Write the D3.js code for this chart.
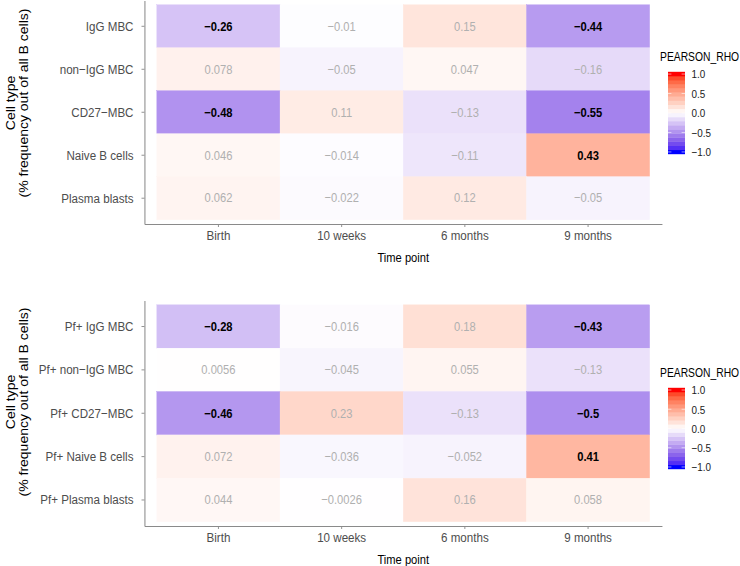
<!DOCTYPE html>
<html>
<head>
<meta charset="utf-8">
<script src="https://cdn.jsdelivr.net/npm/d3@7"></script>
<style>
  html, body { margin: 0; padding: 0; background: #ffffff; }
  svg { display: block; font-family: "Liberation Sans", Arial, Helvetica, sans-serif; }
</style>
</head>
<body>
<script>
// ---------------- data ----------------
const timepoints = ["Birth", "10 weeks", "6 months", "9 months"];

const cellTypesTop = ["IgG MBC", "non−IgG MBC", "CD27−MBC", "Naive B cells", "Plasma blasts"];
const rhoTop = [
  [-0.26, -0.01, 0.15, -0.44],
  [0.078, -0.05, 0.047, -0.16],
  [-0.48, 0.11, -0.13, -0.55],
  [0.046, -0.014, -0.11, 0.43],
  [0.062, -0.022, 0.12, -0.05]
];
const sigTop = [
  [1, 0, 0, 1],
  [0, 0, 0, 0],
  [1, 0, 0, 1],
  [0, 0, 0, 1],
  [0, 0, 0, 0]
];

const cellTypesBottom = ["Pf+ IgG MBC", "Pf+ non−IgG MBC", "Pf+ CD27−MBC", "Pf+ Naive B cells", "Pf+ Plasma blasts"];
const rhoBottom = [
  [-0.28, -0.016, 0.18, -0.43],
  [0.0056, -0.045, 0.055, -0.13],
  [-0.46, 0.23, -0.13, -0.5],
  [0.072, -0.036, -0.052, 0.41],
  [0.044, -0.0026, 0.16, 0.058]
];
const sigBottom = [
  [1, 0, 0, 1],
  [0, 0, 0, 0],
  [1, 0, 0, 1],
  [0, 0, 0, 1],
  [0, 0, 0, 0]
];

const legendTicks = [1, 0.5, 0, -0.5, -1];
const legendTitle = "PEARSON_RHO";
const xTitle = "Time point";
const yTitle1 = "Cell type";
const yTitle2 = "(% frequency out of all B cells)";

// ---------------- setup ----------------
const K = 0.86;              // horizontal squeeze of the original picture
const X = p => p / K;         // final pixel x -> internal x
const W = 740 / K, H = 566;

const svg = d3.select("body").append("svg")
  .attr("width", 740).attr("height", H)
  .attr("viewBox", `0 0 ${W} ${H}`)
  .attr("preserveAspectRatio", "none");

// diverging blue - white - red scale, midpoint 0, limits [-1, 1]
const labLow = d3.lab("#0000ff"), labHigh = d3.lab("#ff0000");
const color = v => {
  const t = Math.min(1, Math.abs(v));
  const end = v < 0 ? labLow : labHigh;
  const c = t * (0.77 + 0.23 * Math.pow(t, 3));
  return d3.lab(100 + (end.l - 100) * t, end.a * c, end.b * c).formatHex();
};

const fmtVal = v => String(v).replace("-", "\u2212");
const fmtLeg = d3.format(".1f");

function drawPanel(cfg) {
  const { rows, vals, sig, top, bottom, yTitleY, legTitleY, barTop, barBottom } = cfg;
  const g = svg.append("g");

  const x = d3.scaleBand().domain(timepoints)
    .range([X(144.5), X(662)]).paddingInner(0).paddingOuter(0.1);
  const y = d3.scaleBand().domain(rows)
    .range([top, bottom]).paddingInner(0).paddingOuter(0.1);

  const cells = [];
  rows.forEach((r, i) => timepoints.forEach((t, j) => {
    cells.push({ r, t, v: vals[i][j], s: sig[i][j] });
  }));

  g.selectAll("rect.cell").data(cells).join("rect")
    .attr("class", "cell")
    .attr("x", d => x(d.t)).attr("y", d => y(d.r))
    .attr("width", x.bandwidth()).attr("height", y.bandwidth())
    .attr("fill", d => color(d.v))
    .attr("stroke", d => color(d.v)).attr("stroke-width", 0.4);

  g.selectAll("text.val").data(cells).join("text")
    .attr("class", "val")
    .attr("x", d => x(d.t) + x.bandwidth() / 2)
    .attr("y", d => y(d.r) + y.bandwidth() / 2)
    .attr("text-anchor", "middle")
    .attr("dominant-baseline", "central")
    .attr("font-size", 13)
    .attr("font-weight", d => d.s ? "bold" : "normal")
    .attr("fill", d => d.s ? "#000000" : "#b0b0b0")
    .text(d => fmtVal(d.v));

  // axes
  const axL = g.append("g").attr("transform", `translate(${X(144.5)},0)`)
    .call(d3.axisLeft(y).tickSize(X(3)).tickSizeOuter(0).tickPadding(X(8)));
  const axB = g.append("g").attr("transform", `translate(0,${bottom})`)
    .call(d3.axisBottom(x).tickSize(3).tickSizeOuter(0).tickPadding(3));
  [axL, axB].forEach(a => {
    a.select(".domain").attr("stroke", "#8a8a8a").attr("stroke-width", 1.2);
    a.selectAll(".tick line").attr("stroke", "#8a8a8a");
    a.selectAll(".tick text").attr("fill", "#4d4d4d").attr("font-size", 13.5)
      .attr("font-family", "Liberation Sans, Arial, sans-serif");
  });

  // axis titles
  g.append("text").attr("x", (x.range()[0] + x.range()[1]) / 2).attr("y", bottom + 38)
    .attr("text-anchor", "middle").attr("font-size", 13).attr("fill", "#000").text(xTitle);
  g.append("text").attr("transform", `translate(${X(10.5)},${yTitleY}) rotate(-90)`)
    .attr("text-anchor", "middle").attr("dominant-baseline", "central")
    .attr("font-size", 14).attr("fill", "#000").text(yTitle1);
  g.append("text").attr("transform", `translate(${X(23.5)},${yTitleY}) rotate(-90)`)
    .attr("text-anchor", "middle").attr("dominant-baseline", "central")
    .attr("font-size", 14).attr("fill", "#000").text(yTitle2);

  // legend
  const nbin = 20;
  const binVals = d3.range(nbin).map(i => -1 + 2 * i / (nbin - 1));
  const h = (barBottom - barTop) / nbin;
  const ly = d3.scaleLinear().domain([1, -1]).range([barTop + h / 2, barBottom - h / 2]);
  const lg = g.append("g");
  lg.append("text").attr("x", X(660)).attr("y", legTitleY)
    .attr("font-size", 12).attr("fill", "#000").text(legendTitle);
  lg.selectAll("rect").data(binVals).join("rect")
    .attr("x", X(668)).attr("width", X(685) - X(668))
    .attr("y", d => ly(d) - h / 2 - 0.2).attr("height", h + 0.4)
    .attr("fill", d => color(d));
  lg.selectAll("line").data(legendTicks).join("line")
    .attr("x1", X(668)).attr("x2", X(671.4)).attr("y1", d => ly(d)).attr("y2", d => ly(d))
    .attr("stroke", "#fff").attr("stroke-width", 0.6);
  lg.selectAll("line.r").data(legendTicks).join("line").attr("class", "r")
    .attr("x1", X(681.6)).attr("x2", X(685)).attr("y1", d => ly(d)).attr("y2", d => ly(d))
    .attr("stroke", "#fff").attr("stroke-width", 0.6);
  lg.selectAll("text.lab").data(legendTicks).join("text").attr("class", "lab")
    .attr("x", X(691.5)).attr("y", d => ly(d))
    .attr("dominant-baseline", "central")
    .attr("font-size", 11.5).attr("fill", "#1a1a1a").text(d => fmtLeg(d));
}

drawPanel({ rows: cellTypesTop, vals: rhoTop, sig: sigTop,
  top: 0.5, bottom: 224, yTitleY: 103, legTitleY: 61, barTop: 72, barBottom: 154 });
drawPanel({ rows: cellTypesBottom, vals: rhoBottom, sig: sigBottom,
  top: 300.5, bottom: 526, yTitleY: 402, legTitleY: 377, barTop: 388, barBottom: 469 });
</script>
</body>
</html>
